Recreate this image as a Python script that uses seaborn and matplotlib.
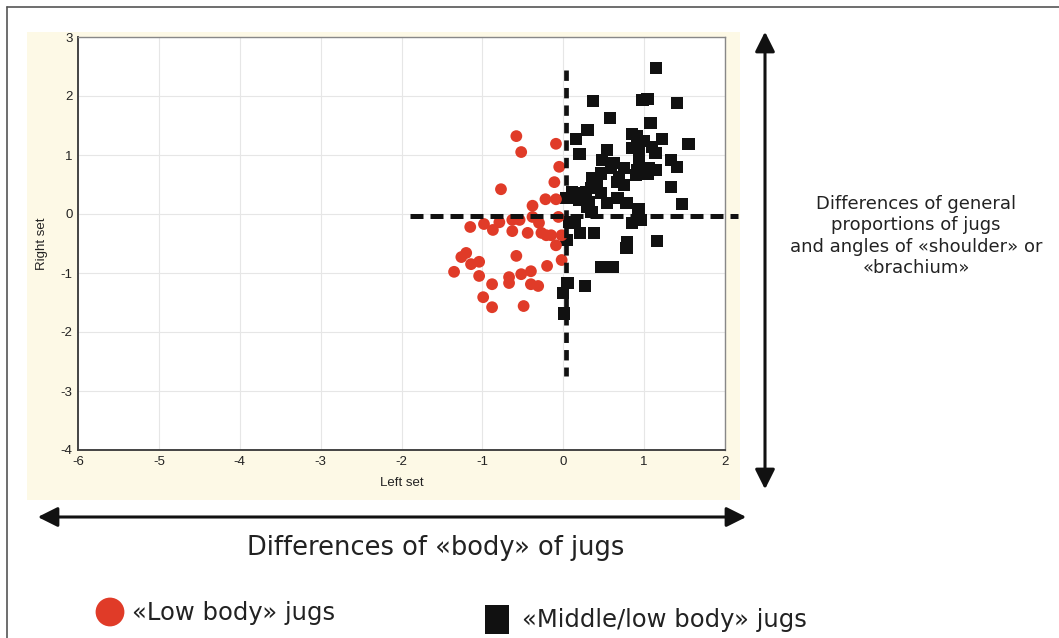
import numpy as np
import pandas as pd
import matplotlib
matplotlib.use("Agg")
import matplotlib.pyplot as plt
import seaborn as sns
from matplotlib.lines import Line2D
from matplotlib.patches import Rectangle, FancyArrowPatch

# ---- data ----
low_x = [-0.58, -0.52, -0.09, -0.05, -0.11, -0.77, -0.22, -0.09, -0.38, -0.38, -0.06,
         -0.79, -0.98, -1.15, -0.87, -0.63, -0.63, -0.54, -0.44, -0.30, -0.27, -0.21,
         -0.15, -0.09, -0.02, -0.02, -0.58, -1.26, -1.20, -1.14, -1.04, -1.35, -0.20,
         -1.04, -0.40, -0.52, -0.67, -0.67, -0.88, -0.40, -0.31, -0.99, -0.88, -0.49]
low_y = [1.32, 1.05, 1.19, 0.80, 0.54, 0.42, 0.25, 0.25, 0.14, -0.05, -0.05,
         -0.14, -0.17, -0.22, -0.27, -0.10, -0.29, -0.10, -0.32, -0.15, -0.32, -0.36,
         -0.36, -0.53, -0.36, -0.78, -0.71, -0.73, -0.66, -0.85, -0.81, -0.98, -0.88,
         -1.05, -0.97, -1.02, -1.07, -1.17, -1.19, -1.19, -1.22, -1.41, -1.58, -1.56]

mid_x = [1.15, 0.37, 0.98, 1.04, 1.41, 0.58, 1.08, 0.30, 0.16, 0.85, 0.91, 0.99, 1.22,
         1.55, 0.20, 0.54, 0.85, 0.93, 1.10, 1.14, 0.48, 0.63, 0.94, 1.33, 1.41, 0.59,
         0.75, 0.91, 1.06, 1.15, 0.47, 0.69, 0.36, 0.41, 0.90, 1.04, 1.33, 0.67, 0.75,
         0.11, 0.20, 0.28, 0.35, 0.47, 0.67, 0.78, 0.54, 0.20, 0.32, 0.35, 1.47, 0.93,
         0.30, 0.04, 0.07, 0.14, 0.85, 0.96, 0.21, 0.38, 0.79, 0.78, 1.16, 0.47, 0.61,
         0.04, 0.05, 0.27, 0.00, 0.01]
mid_y = [2.47, 1.92, 1.93, 1.95, 1.88, 1.63, 1.54, 1.42, 1.27, 1.36, 1.31, 1.24, 1.27,
         1.19, 1.02, 1.08, 1.12, 1.12, 1.14, 1.03, 0.92, 0.86, 0.92, 0.92, 0.80, 0.78,
         0.78, 0.75, 0.78, 0.75, 0.69, 0.63, 0.61, 0.53, 0.66, 0.69, 0.46, 0.54, 0.49,
         0.37, 0.36, 0.37, 0.44, 0.36, 0.27, 0.19, 0.19, 0.24, 0.20, 0.03, 0.17, 0.08,
         0.12, 0.27, -0.14, -0.15, -0.15, -0.10, -0.32, -0.32, -0.47, -0.58, -0.46, -0.90, -0.90,
         -0.44, -1.17, -1.22, -1.34, -1.69]

h_line_x = [-1.9, 2.16]
h_line_y = [-0.03, -0.03]
v_line_x = [0.04, 0.04]
v_line_y = [2.44, -2.75]

x_ticks = [-6, -5, -4, -3, -2, -1, 0, 1, 2]
y_ticks = [3, 2, 1, 0, -1, -2, -3, -4]

legend_low = "«Low body» jugs"
legend_mid = "«Middle/low body» jugs"
x_caption = "Differences of «body» of jugs"
y_caption = "Differences of general\nproportions of jugs\nand angles of «shoulder» or\n«brachium»"

# ---- figure ----
sns.set_style("white")
plt.rcParams['font.family'] = ['Liberation Sans', 'DejaVu Sans']
WIDE = ["DejaVu Sans"]

W, H = 1059, 638
fig = plt.figure(figsize=(W / 100, H / 100), dpi=100)
fig.patch.set_facecolor("white")

def fx(px):
    return px / W

def fy(py):
    return 1 - py / H

# outer frame (top and left edges visible)
fig.add_artist(Line2D([fx(7), fx(1059)], [fy(7), fy(7)], color="#555555", lw=1.2))
fig.add_artist(Line2D([fx(7), fx(7)], [fy(7), fy(638)], color="#555555", lw=1.2))

# cream panel behind the plot
fig.add_artist(Rectangle((fx(27), fy(500)), fx(740) - fx(27), fy(32) - fy(500),
                         facecolor="#fdf9e6", edgecolor="none", zorder=0))

ax = fig.add_axes([fx(78), fy(450), fx(725) - fx(78), fy(37) - fy(450)])
ax.set_facecolor("white")

df_low = pd.DataFrame({"x": low_x, "y": low_y})
df_mid = pd.DataFrame({"x": mid_x, "y": mid_y})

sns.scatterplot(data=df_mid, x="x", y="y", marker="s", s=80, color="#111111",
                edgecolor="none", ax=ax, zorder=3, legend=False)
sns.scatterplot(data=df_low, x="x", y="y", marker="o", s=72, color="#e03b28",
                edgecolor="none", ax=ax, zorder=3, legend=False)

ax.plot(h_line_x, h_line_y, color="#111111", lw=3.6, dashes=(2.6, 1.4),
        zorder=4, clip_on=False, dash_capstyle="butt")
ax.plot(v_line_x, v_line_y, color="#111111", lw=3.4, dashes=(2.2, 1.5),
        zorder=4, clip_on=False, dash_capstyle="butt")

ax.set_xlim(-6, 2)
ax.set_ylim(-4, 3)
ax.set_xticks(x_ticks)
ax.set_yticks(y_ticks)
ax.set_xticklabels([str(t) for t in x_ticks])
ax.set_yticklabels([str(t) for t in y_ticks])
ax.grid(True, color="#e6e6e6", lw=0.8)
ax.set_axisbelow(True)
for side in ["left", "bottom"]:
    ax.spines[side].set_color("#444444")
    ax.spines[side].set_linewidth(1.4)
for side in ["top", "right"]:
    ax.spines[side].set_color("#888888")
    ax.spines[side].set_linewidth(1.0)
ax.tick_params(axis="both", labelsize=9.5, labelcolor="#222222", length=3,
               direction="in", pad=4, color="#444444")
ax.set_xlabel("Left set", fontsize=9.5, color="#222222", labelpad=7)
ax.set_ylabel("Right set", fontsize=9.5, color="#222222", labelpad=9)

# horizontal double arrow
fig.add_artist(FancyArrowPatch(
    (fx(35), fy(517)), (fx(749), fy(517)), transform=fig.transFigure,
    arrowstyle="<|-|>,head_length=12,head_width=6", color="#111111", lw=2.2,
    mutation_scale=1))
fig.text(fx(436), fy(548), x_caption, ha="center", va="center", fontsize=18.5,
         color="#222222", family=WIDE)

# vertical double arrow
fig.add_artist(FancyArrowPatch(
    (fx(765), fy(492)), (fx(765), fy(29)), transform=fig.transFigure,
    arrowstyle="<|-|>,head_length=12,head_width=6", color="#111111", lw=2.2,
    mutation_scale=1))
fig.text(fx(916), fy(236), y_caption, ha="center", va="center", fontsize=13,
         color="#222222", linespacing=1.24, family=WIDE)

# legend
ax_leg = fig.add_axes([0, 0, 1, 1], facecolor="none")
ax_leg.set_xlim(0, W)
ax_leg.set_ylim(H, 0)
ax_leg.axis("off")
ax_leg.scatter([110], [612], s=430, marker="o", color="#e03b28", edgecolor="none")
ax_leg.add_patch(Rectangle((485, 605), 24, 29, facecolor="#111111", edgecolor="none"))
fig.text(fx(132), fy(613), legend_low, ha="left", va="center", fontsize=17.5,
         color="#222222", family=WIDE)
fig.text(fx(522), fy(620), legend_mid, ha="left", va="center", fontsize=17.5,
         color="#222222", family=WIDE)

fig.savefig("out.png", dpi=100)
